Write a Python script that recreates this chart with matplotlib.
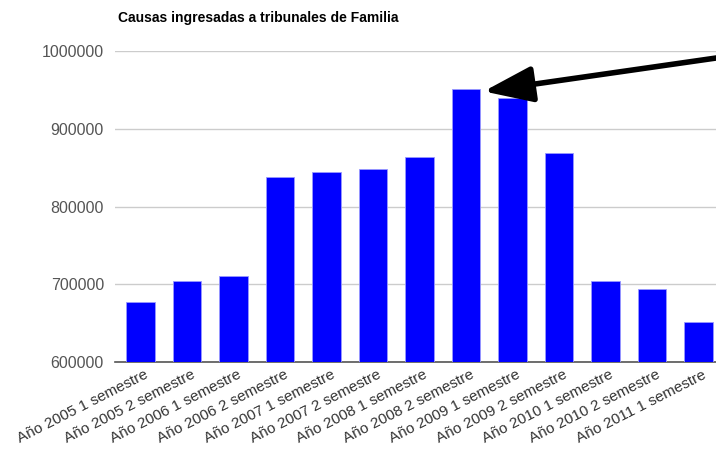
import matplotlib
matplotlib.use("Agg")
import matplotlib.pyplot as plt
import matplotlib.transforms as mtransforms
import numpy as np

plt.rcParams['font.family'] = ['Liberation Sans', 'DejaVu Sans']

periodos = [
    "Año 2005 1 semestre", "Año 2005 2 semestre", "Año 2006 1 semestre",
    "Año 2006 2 semestre", "Año 2007 1 semestre", "Año 2007 2 semestre",
    "Año 2008 1 semestre", "Año 2008 2 semestre", "Año 2009 1 semestre",
    "Año 2009 2 semestre", "Año 2010 1 semestre", "Año 2010 2 semestre",
    "Año 2011 1 semestre",
]
causas = [677500, 703800, 711000, 837500, 844800, 847800, 863300,
          951100, 939100, 869200, 703800, 694300, 651400]
yticks = [600000, 700000, 800000, 900000, 1000000]

fig = plt.figure(figsize=(7.16, 4.54), dpi=100)
ax = fig.add_axes([0.1606, 0.2026, 0.8506, 0.685])

x = np.arange(len(periodos))
ax.bar(x, causas, width=0.62, color="#0000ff", edgecolor="#9999ff",
       linewidth=0.6, zorder=3)

ax.set_xlim(-0.55, len(periodos) - 0.45)
ax.set_ylim(600000, 1000000)
ax.set_yticks(yticks)
ax.set_yticklabels([str(v) for v in yticks], color="#555555", fontsize=11.5)
ax.yaxis.grid(True, color="#cccccc", linewidth=1)
ax.set_axisbelow(True)
ax.tick_params(axis="y", length=0, pad=8)
ax.tick_params(axis="x", length=0, pad=4)

ax.set_xticks(x)
ax.set_xticklabels(periodos, rotation=27, ha="right", rotation_mode="anchor",
                   color="#333333", fontsize=11)
offset = mtransforms.ScaledTranslation(0.04, 0, fig.dpi_scale_trans)
for lbl in ax.get_xticklabels():
    lbl.set_transform(lbl.get_transform() + offset)

for side in ["top", "right", "left"]:
    ax.spines[side].set_visible(False)
ax.spines["bottom"].set_color("#555555")
ax.spines["bottom"].set_linewidth(1.2)

fig.text(118 / 716, 1 - 18 / 454, "Causas ingresadas a tribunales de Familia",
         fontsize=10, fontweight="bold", va="center", ha="left")

# flecha que apunta al máximo
imax = int(np.argmax(causas))
ax.annotate("", xy=(imax + 0.38, causas[imax] - 3000), xycoords="data",
            xytext=(1.01, 1 - 57 / 454), textcoords="figure fraction",
            arrowprops=dict(arrowstyle="-|>,head_length=3.0,head_width=1.1",
                            mutation_scale=10, lw=4, color="black",
                            shrinkA=0, shrinkB=0),
            annotation_clip=False)

fig.savefig("out.png", dpi=100)
